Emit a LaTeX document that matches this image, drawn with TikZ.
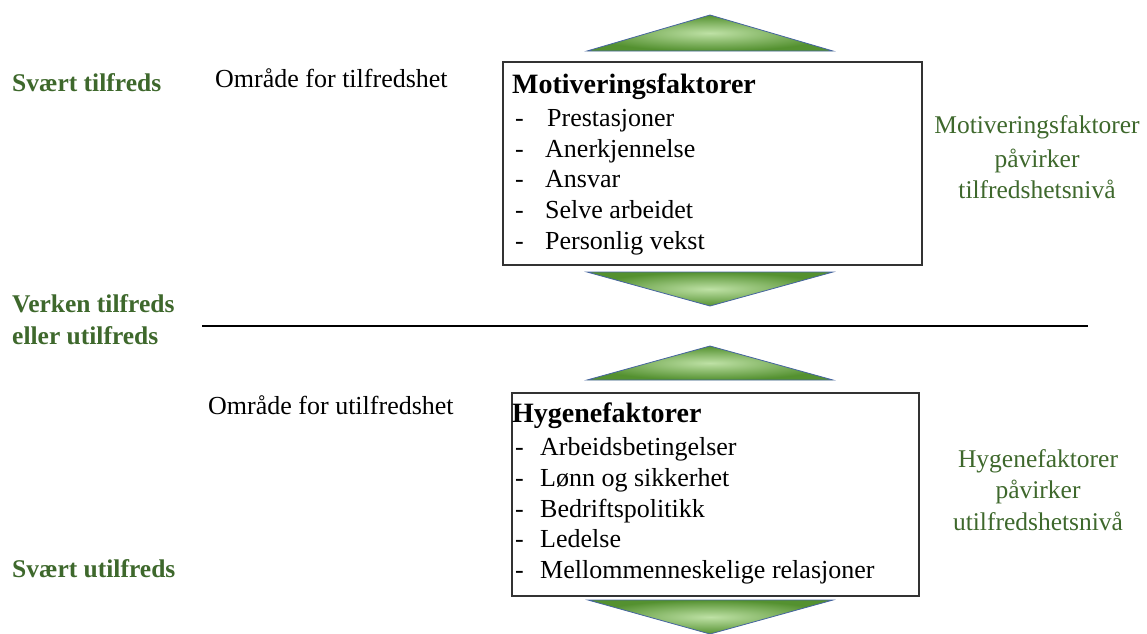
\documentclass[tikz,border=0pt]{standalone}
\usepackage{fontspec}
\setmainfont{Liberation Serif}
\definecolor{lbl}{RGB}{62,104,44}
\definecolor{triedge}{RGB}{70,100,160}
\definecolor{trilight}{RGB}{190,225,165}
\definecolor{tridark}{RGB}{84,145,48}
\begin{document}
\begin{tikzpicture}[x=1pt,y=-1pt,
  txt/.style={inner sep=0pt, anchor=base west, font=\fontsize{26}{30}\selectfont},
  grn/.style={inner sep=0pt, anchor=base west, text=lbl, font=\fontsize{25.5}{30}\selectfont\bfseries},
  rgt/.style={inner sep=0pt, anchor=base, text=lbl, font=\fontsize{25.5}{30}\selectfont},
  ttl/.style={inner sep=0pt, anchor=base west, font=\fontsize{28}{30}\selectfont\bfseries},
  boxed/.style={draw=black!80, line width=1.5pt, inner sep=0pt, anchor=north west},
  tri/.style={draw=triedge, line width=0.8pt, inner color=trilight, outer color=tridark}]
\useasboundingbox (0,0) rectangle (1147,633);
\clip (0,0) rectangle (1147,633);
% triangles
\shade[tri] (587,51) -- (710,15) -- (833,51) -- cycle;
\shade[tri] (587,272) -- (833,272) -- (710,306) -- cycle;
\shade[tri] (587,380) -- (710,346) -- (833,380) -- cycle;
\shade[tri] (588,600) -- (833,600) -- (710,634) -- cycle;
% boxes
\node[boxed, minimum width=419pt, minimum height=203pt] (mbox) at (502,61) {};
\node[boxed, minimum width=407pt, minimum height=203pt] (hbox) at (511,392) {};
% dividing line
\coordinate (l1) at (202,326);
\coordinate (l2) at (1088,326);
\draw[line width=2.8pt] (l1) -- (l2);
% left labels
\node[grn] (sv1) at (12,91) {Svært tilfreds};
\node[grn] (vk1) at (12,312) {Verken tilfreds};
\node[grn] (vk2) at (12,344) {eller utilfreds};
\node[grn] (sv2) at (12,577) {Svært utilfreds};
% area labels
\node[txt] (omr1) at (215,87) {Område for tilfredshet};
\node[txt] (omr2) at (208,414) {Område for utilfredshet};
% top box contents
\node[ttl] (mt) at (512,93) {Motiveringsfaktorer};
\node[txt] (md1) at (515,126) {-};
\node[txt] (mi1) at (547,126) {Prestasjoner};
\node[txt] (md2) at (515,157) {-};
\node[txt] (mi2) at (545,157) {Anerkjennelse};
\node[txt] (md3) at (515,187) {-};
\node[txt] (mi3) at (545,187) {Ansvar};
\node[txt] (md4) at (515,218) {-};
\node[txt] (mi4) at (545,218) {Selve arbeidet};
\node[txt] (md5) at (515,249) {-};
\node[txt] (mi5) at (545,249) {Personlig vekst};
% bottom box contents
\node[ttl] (ht) at (512,422) {Hygenefaktorer};
\node[txt] (hd1) at (515,455) {-};
\node[txt] (hi1) at (540,455) {Arbeidsbetingelser};
\node[txt] (hd2) at (515,486) {-};
\node[txt] (hi2) at (540,486) {Lønn og sikkerhet};
\node[txt] (hd3) at (515,517) {-};
\node[txt] (hi3) at (540,517) {Bedriftspolitikk};
\node[txt] (hd4) at (515,547) {-};
\node[txt] (hi4) at (540,547) {Ledelse};
\node[txt] (hd5) at (515,578) {-};
\node[txt] (hi5) at (540,578) {Mellommenneskelige relasjoner};
% right labels
\node[rgt] (r1) at (1037,133) {Motiveringsfaktorer};
\node[rgt] (r2) at (1037,167) {påvirker};
\node[rgt] (r3) at (1037,198) {tilfredshetsnivå};
\node[rgt] (r4) at (1038,467) {Hygenefaktorer};
\node[rgt] (r5) at (1038,498) {påvirker};
\node[rgt] (r6) at (1038,530) {utilfredshetsnivå};
\end{tikzpicture}
\end{document}
